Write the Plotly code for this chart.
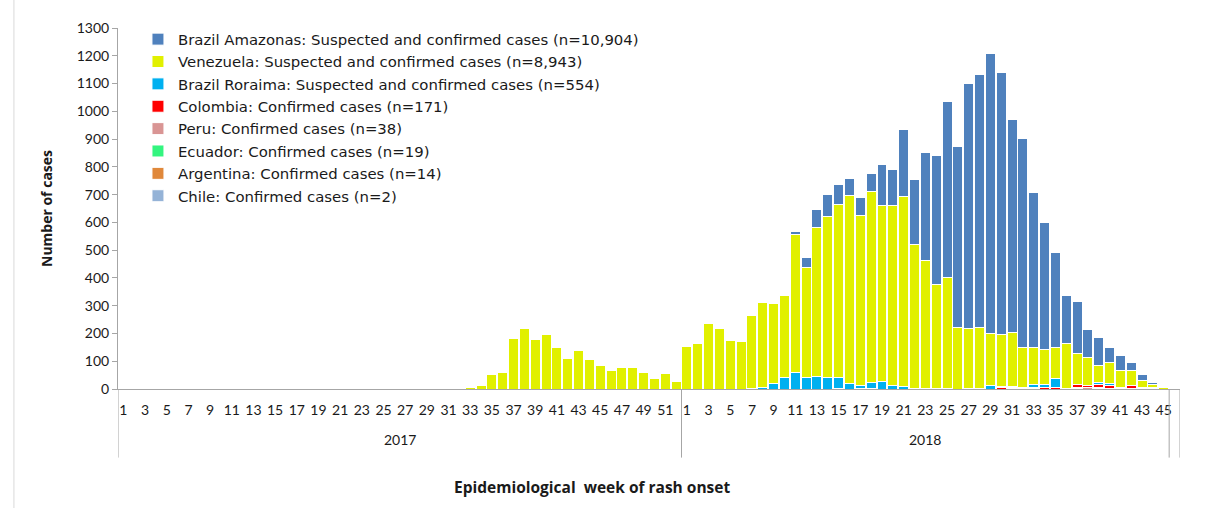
import plotly.graph_objects as go

# ---------------- data ----------------
weeks_2017 = list(range(1, 53))
weeks_2018 = list(range(1, 46))
years = ["2017", "2018"]

# 2017: only Venezuela reported cases
venezuela_2017 = [0]*26 + [2, 0, 0, 0, 2, 2, 4, 13, 52, 59, 181, 217, 177, 198, 149, 111,
                          137, 108, 85, 66, 77, 77, 59, 37, 55, 27]

# 2018 weeks 1..45
amazonas_2018 = [0, 0, 0, 0, 0, 0, 0, 0, 0, 0, 13, 35, 66, 80, 74, 62, 63, 64, 148, 131,
                 239, 236, 389, 464, 634, 650, 883, 912, 1008, 943, 765, 753, 556, 455, 343,
                 171, 187, 102, 99, 53, 53, 28, 21, 10, 0]
venezuela_2018 = [153, 164, 236, 218, 173, 170, 260, 306, 288, 297, 497, 395, 537, 580, 623,
                  676, 614, 688, 634, 649, 685, 518, 459, 374, 401, 222, 216, 217, 189, 187,
                  195, 144, 134, 126, 112, 161, 112, 98, 64, 77, 62, 56, 26, 11, 5]
roraima_2018 = [0, 0, 0, 0, 0, 0, 3, 5, 19, 40, 58, 42, 44, 42, 38, 20, 9, 22, 26, 11,
                9, 0, 2, 2, 1, 0, 0, 0, 12, 6, 5, 4, 10, 13, 31, 0, 0, 0, 5, 8,
                0, 0, 0, 0, 0]
colombia_2018 = [0]*14 + [2, 0, 2, 2, 0, 0, 0, 0, 0, 0, 0, 0, 2, 0, 0, 4,
                          2, 0, 3, 5, 7, 3, 10, 10, 12, 9, 4, 10, 3, 3, 0]
peru_2018 = [0]*16 + [1, 0, 0, 0, 0, 2, 0, 0, 0, 0, 0, 0, 0, 0, 0, 0, 0, 0, 0, 0,
                      4, 4, 4, 3, 2, 2, 1, 0, 0]
ecuador_2018 = [0]*31 + [2, 2, 0, 0, 0, 2, 0, 0, 0, 0, 0, 0, 0]
argentina_2018 = [0]*27 + [3, 0, 0, 2, 0, 2, 0, 0, 0, 0, 0, 0, 0, 0, 0, 0, 0, 0]
chile_2018 = [0]*38 + [1, 0, 0, 0, 0, 1, 0]

# one empty trailing category (as in the original axis)
pad = [0]
n2017 = len(weeks_2017)
zeros_2017 = [0]*n2017

series = [  # bottom -> top stacking order
    ("Chile: Confirmed cases (n=2)", zeros_2017 + chile_2018 + pad, "#95B3D7"),
    ("Argentina: Confirmed cases (n=14)", zeros_2017 + argentina_2018 + pad, "#E0883A"),
    ("Ecuador: Confirmed cases (n=19)", zeros_2017 + ecuador_2018 + pad, "#33F57F"),
    ("Peru: Confirmed cases (n=38)", zeros_2017 + peru_2018 + pad, "#D99594"),
    ("Colombia: Confirmed cases (n=171)", zeros_2017 + colombia_2018 + pad, "#FF0000"),
    ("Brazil Roraima: Suspected and confirmed cases (n=554)", zeros_2017 + roraima_2018 + pad, "#00B0F0"),
    ("Venezuela: Suspected and confirmed cases (n=8,943)", venezuela_2017 + venezuela_2018 + pad, "#E1F000"),
    ("Brazil Amazonas: Suspected and confirmed cases (n=10,904)", zeros_2017 + amazonas_2018 + pad, "#4F81BD"),
]

ncat = n2017 + len(weeks_2018) + 1
xpos = list(range(ncat))

FONT = "Lato, sans-serif"
FONT2 = "Open Sans, sans-serif"
FONT3 = "DejaVu Sans, sans-serif"

fig = go.Figure()
for name, vals, col in series:
    fig.add_trace(go.Bar(
        x=xpos, y=vals, name=name,
        marker=dict(color=col, line=dict(color="white", width=1)),
    ))

# tick labels: odd weeks
tickvals, ticktext = [], []
for i, w in enumerate(weeks_2017):
    if w % 2 == 1:
        tickvals.append(i); ticktext.append(str(w))
for i, w in enumerate(weeks_2018):
    if w % 2 == 1:
        tickvals.append(n2017 + i); ticktext.append(str(w))

axis_col = "#A6A6A6"
fig.update_layout(
    width=1211, height=508,
    margin=dict(l=118, r=31, t=28, b=119),
    paper_bgcolor="white", plot_bgcolor="white",
    barmode="stack", bargap=0.08,
    font=dict(family=FONT, size=14, color="#1a1a1a"),
    showlegend=True,
    legend=dict(traceorder="reversed", x=0.0188, y=1.014, xanchor="left", yanchor="top",
                bgcolor="rgba(0,0,0,0)", font=dict(size=14.9, family=FONT3, color="#1a1a1a"),
                tracegroupgap=0, itemwidth=30),
    xaxis=dict(range=[-0.5, ncat - 0.5], tickmode="array", tickvals=tickvals,
               ticktext=ticktext, showgrid=False, zeroline=False, showline=True,
               linecolor=axis_col, linewidth=1, ticks="", tickangle=0,
               ticklabelstandoff=8,
               tickfont=dict(size=14, family=FONT)),
    yaxis=dict(range=[0, 1300], dtick=100, showgrid=False, zeroline=False,
               showline=True, linecolor=axis_col, linewidth=1, ticks="outside",
               ticklen=5, tickcolor=axis_col, tickfont=dict(size=14, family=FONT),
               title=dict(text="<b>Number of cases</b>", font=dict(size=14, family=FONT2),
                          standoff=20)),
)

# group dividers on the category axis
for xv in [-0.5, n2017 - 0.5, ncat - 1.5, ncat - 0.5]:
    fig.add_shape(type="line", xref="x", yref="paper", x0=xv, x1=xv, y0=0, y1=-0.19,
                  line=dict(color=axis_col, width=1))

# year labels
fig.add_annotation(x=(n2017 - 1) / 2, y=-0.141, xref="x", yref="paper", text=years[0],
                   showarrow=False, yanchor="middle", font=dict(size=14, family=FONT))
fig.add_annotation(x=n2017 + (len(weeks_2018) - 1) / 2, y=-0.141, xref="x", yref="paper",
                   text=years[1], showarrow=False, yanchor="middle", font=dict(size=14, family=FONT))

# x title
fig.add_annotation(x=0.446, y=-0.271, xref="paper", yref="paper",
                   text="<b>Epidemiological  week of rash onset</b>", showarrow=False,
                   xanchor="center", yanchor="middle",
                   font=dict(size=15.5, family=FONT2))

# outer chart border (left edge)
fig.add_shape(type="line", xref="paper", yref="paper", x0=-0.098, x1=-0.098, y0=-0.33, y1=1.08,
              line=dict(color="#D9D9D9", width=1))

fig.write_html("out.html", config={"displayModeBar": False},
               post_script="document.body.style.margin='0px';")
